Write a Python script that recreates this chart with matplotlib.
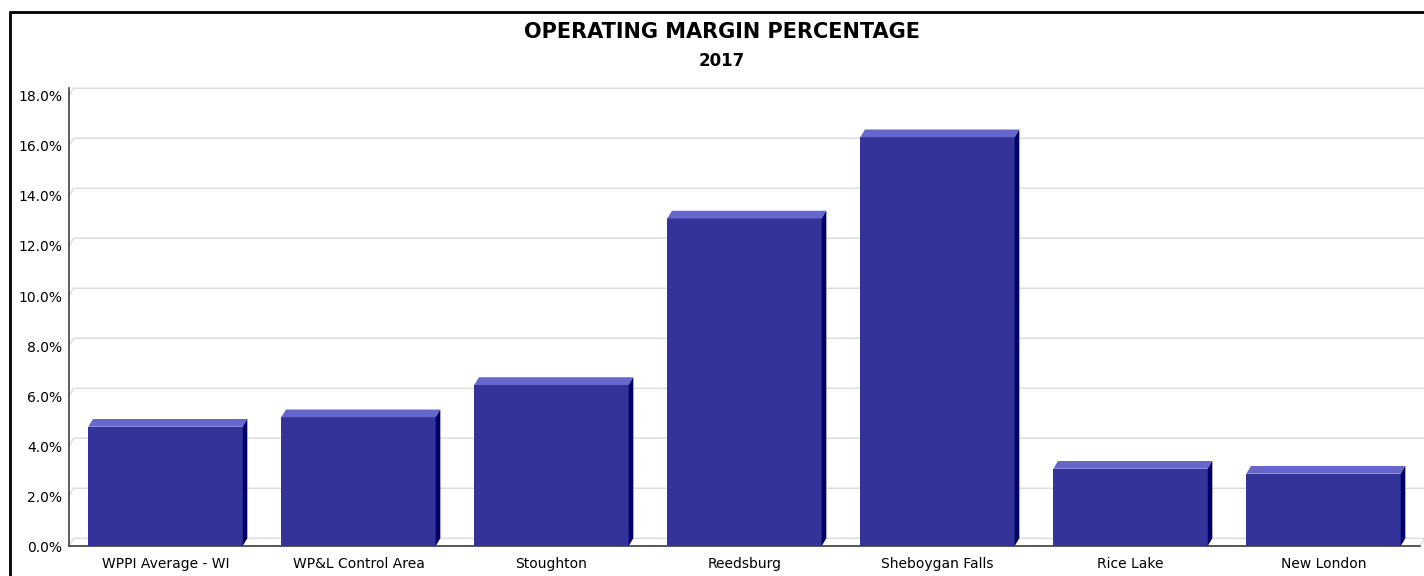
import matplotlib
matplotlib.use("Agg")
import matplotlib.pyplot as plt
from matplotlib.patches import Polygon, Rectangle
import numpy as np

categories = ["WPPI Average - WI", "WP&L Control Area", "Stoughton", "Reedsburg",
              "Sheboygan Falls", "Rice Lake", "New London"]
margins = [4.77, 5.15, 6.44, 13.10, 16.35, 3.09, 2.89]
y_ticks = [0, 2, 4, 6, 8, 10, 12, 14, 16, 18]
y_tick_labels = ["0.0%", "2.0%", "4.0%", "6.0%", "8.0%", "10.0%", "12.0%", "14.0%", "16.0%", "18.0%"]

FRONT = "#333399"
TOP = "#6666CC"
SIDE = "#000066"
GRID = "#DCDCDC"
AXIS = "#404040"

W, H = 1424, 576
fig = plt.figure(figsize=(W / 100, H / 100), dpi=100)
fig.patch.set_facecolor("white")

# outer frame (runs off the right and bottom edges)
fig.add_artist(Rectangle((10 / W, -0.1), 1.2, (H - 12) / H + 0.1, transform=fig.transFigure,
                         fill=False, edgecolor="black", linewidth=2.0))

left, right = 69 / W, 1420 / W
bottom, top = (H - 546) / H, (H - 86) / H
ax = fig.add_axes([left, bottom, right - left, top - bottom])
ax.set_xlim(-0.5, 6.5)
ax.set_ylim(0, 18.4)
ax.set_facecolor("none")
for s in ax.spines.values():
    s.set_visible(False)

dx, dy = 0.024, 0.31  # depth offset of the back wall
x = np.arange(len(categories))
w = 0.8

# back-wall gridlines
for k in y_ticks[1:]:
    ax.plot([-0.5, -0.5 + dx, 6.5 + dx], [k, k + dy, k + dy], color=GRID, lw=1.0,
            zorder=1, clip_on=False)

# floor
ax.add_patch(Polygon([(-0.5, 0), (-0.5 + dx, dy), (6.5 + dx, dy), (6.5, 0)], closed=True,
                     facecolor="white", edgecolor=GRID, lw=1.0, zorder=1.5, clip_on=False))
ax.plot([-0.5, 6.5], [0, 0], color=AXIS, lw=1.2, zorder=2, clip_on=False)
ax.plot([-0.5, -0.5], [0, 18 + dy], color=AXIS, lw=1.2, zorder=2, clip_on=False)

# bars with top and side faces
ax.bar(x, margins, width=w, color=FRONT, zorder=3, linewidth=0)
for xi, v in zip(x, margins):
    l, r = xi - w / 2, xi + w / 2
    ax.add_patch(Polygon([(l, v), (l + dx, v + dy), (r + dx, v + dy), (r, v)], closed=True,
                         facecolor=TOP, edgecolor="none", zorder=3))
    ax.add_patch(Polygon([(r, 0), (r, v), (r + dx, v + dy), (r + dx, dy)], closed=True,
                         facecolor=SIDE, edgecolor="none", zorder=3))

ax.set_yticks(y_ticks)
ax.set_yticklabels(y_tick_labels)
ax.set_xticks(x)
ax.set_xticklabels(categories)
ax.tick_params(axis="y", length=0, pad=5, labelsize=10, colors="black")
ax.tick_params(axis="x", length=0, pad=8, labelsize=10, colors="black")

fig.text(722 / W, (H - 32) / H, "OPERATING MARGIN PERCENTAGE", ha="center", va="center",
         fontsize=15, fontweight="bold")
fig.text(722 / W, (H - 61) / H, "2017", ha="center", va="center",
         fontsize=12, fontweight="bold")

fig.savefig("out.png", dpi=100, facecolor="white")
